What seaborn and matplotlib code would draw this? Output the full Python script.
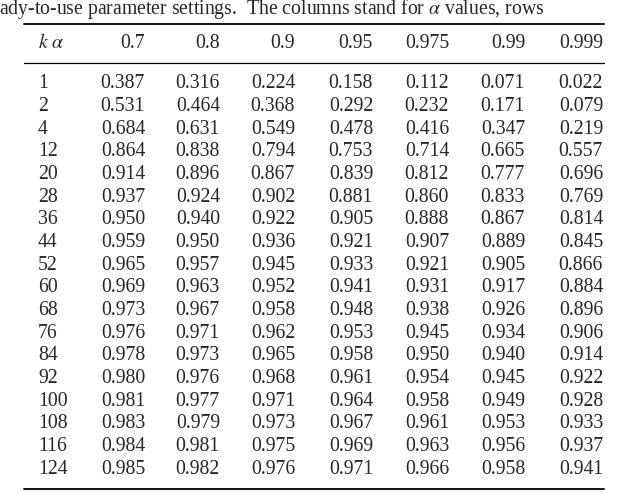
import matplotlib
matplotlib.use("Agg")
import matplotlib.pyplot as plt
import seaborn as sns

sns.set_theme(style="white")
plt.rcParams['font.family'] = ['Liberation Serif', 'DejaVu Serif']
plt.rcParams['mathtext.fontset'] = 'stix'

alphas = ["0.7", "0.8", "0.9", "0.95", "0.975", "0.99", "0.999"]
ks = ["1", "2", "4", "12", "20", "28", "36", "44", "52", "60", "68", "76", "84", "92", "100", "108", "116", "124"]
col_07 = ["0.387","0.531","0.684","0.864","0.914","0.937","0.950","0.959","0.965","0.969","0.973","0.976","0.978","0.980","0.981","0.983","0.984","0.985"]
col_08 = ["0.316","0.464","0.631","0.838","0.896","0.924","0.940","0.950","0.957","0.963","0.967","0.971","0.973","0.976","0.977","0.979","0.981","0.982"]
col_09 = ["0.224","0.368","0.549","0.794","0.867","0.902","0.922","0.936","0.945","0.952","0.958","0.962","0.965","0.968","0.971","0.973","0.975","0.976"]
col_095 = ["0.158","0.292","0.478","0.753","0.839","0.881","0.905","0.921","0.933","0.941","0.948","0.953","0.958","0.961","0.964","0.967","0.969","0.971"]
col_0975 = ["0.112","0.232","0.416","0.714","0.812","0.860","0.888","0.907","0.921","0.931","0.938","0.945","0.950","0.954","0.958","0.961","0.963","0.966"]
col_099 = ["0.071","0.171","0.347","0.665","0.777","0.833","0.867","0.889","0.905","0.917","0.926","0.934","0.940","0.945","0.949","0.953","0.956","0.958"]
col_0999 = ["0.022","0.079","0.219","0.557","0.696","0.769","0.814","0.845","0.866","0.884","0.896","0.906","0.914","0.922","0.928","0.933","0.937","0.941"]
columns = [col_07, col_08, col_09, col_095, col_0975, col_099, col_0999]
caption = r"ady-to-use parameter settings.  The columns stand for $\alpha$ values, rows"

fig = plt.figure(figsize=(6.4, 4.94), dpi=100)
ax = fig.add_axes([0, 0, 1, 1])
ax.set_xlim(0, 640)
ax.set_ylim(494, 0)
ax.axis("off")

fs = 14.2
ax.text(-1, 9, caption, fontsize=fs, va="center", ha="left")
ax.plot([24, 604], [24, 24], color="black", lw=1.3)
ax.plot([24, 604], [63, 63], color="black", lw=0.9)
ax.plot([24, 604], [489, 489], color="black", lw=1.3)

right = [145, 220, 295, 373, 449, 525, 603]
ax.text(38, 43, r"$k\ \alpha$", fontsize=fs, va="center", ha="left")
for x, a in zip(right, alphas):
    ax.text(x, 43, a, fontsize=fs, va="center", ha="right")
y0, dy = 84, 22.65
for i, k in enumerate(ks):
    y = y0 + i * dy
    ax.text(38, y, k, fontsize=fs, va="center", ha="left")
    for x, col in zip(right, columns):
        ax.text(x, y, col[i], fontsize=fs, va="center", ha="right")

fig.savefig("out.png", dpi=100)
